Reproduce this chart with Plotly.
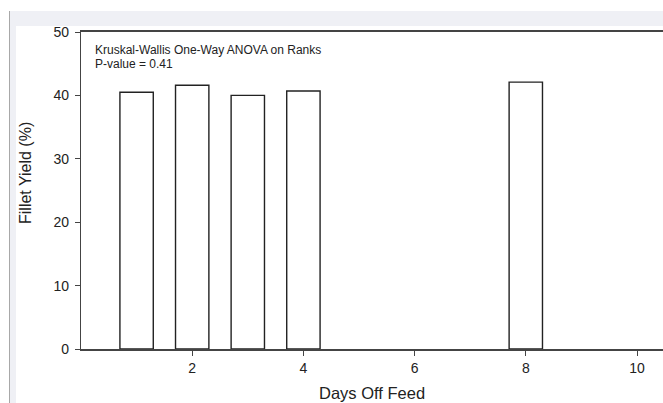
import plotly.graph_objects as go

# Data
days = [1, 2, 3, 4, 8]
fillet_yield = [40.5, 41.6, 40.0, 40.7, 42.1]
x_tick_vals = [2, 4, 6, 8, 10]
y_tick_vals = [0, 10, 20, 30, 40, 50]

W, H = 663, 403
L, R, T, B = 81, 0, 32, 54
PW, PH = W - L - R, H - T - B

def px(x):
    return (x - L) / PW

def py(y):
    return (H - B - y) / PH

font = "Arial, Liberation Sans, sans-serif"

fig = go.Figure()
fig.add_trace(go.Bar(
    x=days, y=fillet_yield, width=0.6,
    marker=dict(color="white", line=dict(color="#222222", width=1.4)),
    showlegend=False,
))

shapes = [
    # screenshot frame decoration
    dict(type="rect", xref="paper", yref="paper", layer="below",
         x0=px(10), x1=px(W + 5), y0=py(11), y1=py(26),
         fillcolor="#eff0f5", line=dict(width=0)),
    dict(type="rect", xref="paper", yref="paper", layer="below",
         x0=px(10), x1=px(16), y0=py(11), y1=py(H + 5),
         fillcolor="#eff0f5", line=dict(width=0)),
    dict(type="line", xref="paper", yref="paper", layer="below",
         x0=px(9.5), x1=px(9.5), y0=py(11), y1=py(H + 5),
         line=dict(color="#a8a8a8", width=1)),
]

annotations = [
    dict(text="Kruskal-Wallis One-Way ANOVA on Ranks", xref="paper", yref="paper",
         x=px(93), y=py(50), xanchor="left", yanchor="middle", showarrow=False,
         font=dict(family=font, size=12, color="#222222")),
    dict(text="P-value = 0.41", xref="paper", yref="paper",
         x=px(93), y=py(63.5), xanchor="left", yanchor="middle", showarrow=False,
         font=dict(family=font, size=12, color="#222222")),
    dict(text="Fillet Yield (%)", xref="paper", yref="paper",
         x=px(25), y=py(173), xanchor="center", yanchor="middle", showarrow=False,
         textangle=-90, font=dict(family=font, size=16, color="#222222")),
    dict(text="Days Off Feed", xref="paper", yref="paper",
         x=px(372), y=py(393), xanchor="center", yanchor="middle", showarrow=False,
         font=dict(family=font, size=16.5, color="#222222")),
]

fig.update_layout(
    width=W, height=H,
    margin=dict(l=L, r=R, t=T, b=B, pad=0),
    paper_bgcolor="white", plot_bgcolor="white",
    font=dict(family=font, size=14, color="#222222"),
    shapes=shapes, annotations=annotations,
    xaxis=dict(range=[0, (W - L) / 55.6], tickvals=x_tick_vals,
               showline=True, linecolor="#444444", linewidth=1.5, mirror=True,
               ticks="outside", ticklen=5, tickcolor="#444444", tickwidth=1,
               showgrid=False, zeroline=False, tickfont=dict(size=14)),
    yaxis=dict(range=[0, 50], tickvals=y_tick_vals,
               showline=True, linecolor="#444444", linewidth=1.2,
               ticks="outside", ticklen=5, tickcolor="#444444", tickwidth=1,
               ticklabelstandoff=3,
               showgrid=False, zeroline=False, tickfont=dict(size=14)),
)

fig.write_html(
    "out.html",
    config={"displayModeBar": False},
    post_script="document.body.style.margin='0px';document.body.style.overflow='hidden';",
)
